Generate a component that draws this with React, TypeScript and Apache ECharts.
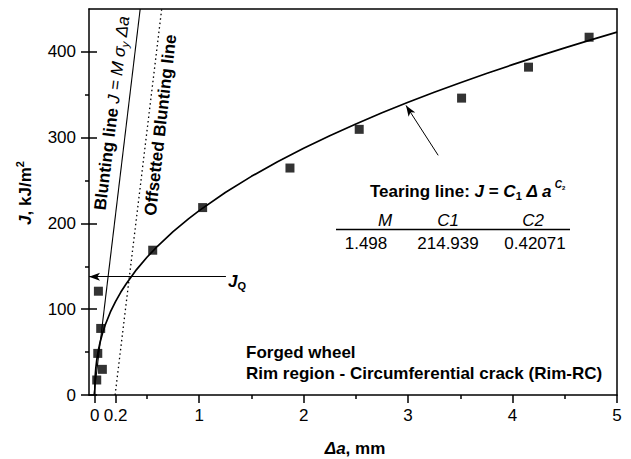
import React, { useEffect, useRef } from 'react';
import * as echarts from 'echarts';

const FONT = '"Liberation Sans", Arial, Helvetica, sans-serif';

// Measured data points (Δa in mm, J in kJ/m²)
const pointsDeltaA = [0.019, 0.029, 0.035, 0.057, 0.073, 0.555, 1.033, 1.869, 2.532, 3.512, 4.153, 4.733];
const pointsJ = [17.5, 48.5, 121, 77.6, 29.9, 168.8, 218.5, 264.6, 309.7, 346.1, 382.2, 417.1];

// Tearing line
const tearingDeltaA = [
  0, 0.002, 0.005, 0.01, 0.02, 0.035, 0.05, 0.075, 0.1, 0.15, 0.2, 0.25, 0.3, 0.4, 0.5, 0.6, 0.75, 0.9, 1,
  1.25, 1.5, 1.75, 2, 2.25, 2.5, 2.75, 3, 3.25, 3.5, 3.75, 4, 4.25, 4.5, 4.75, 5,
];
const tearingJ = [
  0, 15.7, 23.1, 31, 41.5, 52.4, 61, 72.3, 81.6, 96.8, 109.2, 120, 129.5, 146.2, 160.6, 173.4, 190.4, 205.6, 214.9,
  236.1, 254.9, 272, 287.7, 302.3, 316, 329, 341.2, 352.9, 364.1, 374.8, 385.1, 395.1, 404.7, 414, 423,
];

// Blunting lines
const bluntingDeltaA = [-0.008, 0.435];
const bluntingJ = [0, 450];
const offsetDeltaA = [0.195, 0.641];
const offsetJ = [0, 450];

// Axes
const X_MIN = -0.055;
const X_MAX = 5;
const Y_MIN = 0;
const Y_MAX = 450;
const xTickValues = [0, 0.2, 1, 2, 3, 4, 5];
const xMinorTickValues = [0.5, 1.5, 2.5, 3.5, 4.5];
const yTickValues = [0, 100, 200, 300, 400];
const yMinorTickValues = [50, 150, 250, 350];

// Annotations
const jQ = 138;
const jQArrowStart = 1.256;
const tearArrowFrom = [3.288, 279.4];
const tearArrowTo = [2.98, 337.6];

const tableHeaders = ['M', 'C1', 'C2'];
const tableValues = ['1.498', '214.939', '0.42071'];

const zip = (xs: number[], ys: number[]) => xs.map((x, i) => [x, ys[i]]);

const rich = {
  b: { fontFamily: FONT, fontSize: 17, fontWeight: 'bold', fill: '#000' },
  bi: { fontFamily: FONT, fontSize: 17, fontWeight: 'bold', fontStyle: 'italic', fill: '#000' },
  i: { fontFamily: FONT, fontSize: 17, fontStyle: 'italic', fill: '#000' },
  n: { fontFamily: FONT, fontSize: 17, fill: '#000' },
  isub: { fontFamily: FONT, fontSize: 11, fontStyle: 'italic', fill: '#000', padding: [9, 0, 0, 0] },
  sub: { fontFamily: FONT, fontSize: 11, fontWeight: 'bold', fill: '#000', padding: [9, 0, 0, 0] },
  sup: { fontFamily: FONT, fontSize: 11, fontWeight: 'bold', fill: '#000', padding: [0, 0, 11, 0] },
  supi: { fontFamily: FONT, fontSize: 10, fontWeight: 'bold', fontStyle: 'italic', fill: '#000', padding: [0, 0, 13, 0] },
  supsub: { fontFamily: FONT, fontSize: 6, fontWeight: 'bold', fill: '#000', padding: [0, 0, 7, 0] },
};

const txt = (x: number, y: number, text: string, align = 'center', rotation = 0) => ({
  type: 'text',
  x,
  y,
  rotation,
  silent: true,
  style: { text, rich, align, verticalAlign: 'middle', fill: '#000' },
});

const axisLineStyle = { color: '#000', width: 1.5 };

export default function App() {
  const ref = useRef<HTMLDivElement>(null);

  useEffect(() => {
    if (!ref.current) return;
    const chart = echarts.init(ref.current, undefined, { renderer: 'svg' });

    const xBase = { type: 'value', min: X_MIN, max: X_MAX, splitLine: { show: false } };
    const yBase = { type: 'value', min: Y_MIN, max: Y_MAX, splitLine: { show: false } };

    chart.setOption({
      animation: false,
      backgroundColor: '#fff',
      grid: { left: 89, right: 14, top: 9, bottom: 64, containLabel: false, outerBoundsMode: 'none' },
      xAxis: [
        {
          ...xBase,
          position: 'bottom',
          axisLine: { show: true, onZero: false, lineStyle: axisLineStyle },
          axisTick: { show: true, customValues: xTickValues, length: 8, lineStyle: axisLineStyle },
          axisLabel: { show: true, customValues: xTickValues, fontSize: 17, fontFamily: FONT, color: '#000', margin: 12 },
        },
        {
          ...xBase,
          position: 'bottom',
          axisLine: { show: false, onZero: false },
          axisTick: { show: true, customValues: xMinorTickValues, length: 4, lineStyle: axisLineStyle },
          axisLabel: { show: false },
        },
        {
          ...xBase,
          position: 'top',
          axisLine: { show: true, onZero: false, lineStyle: axisLineStyle },
          axisTick: { show: false },
          axisLabel: { show: false },
        },
      ],
      yAxis: [
        {
          ...yBase,
          position: 'left',
          axisLine: { show: true, onZero: false, lineStyle: axisLineStyle },
          axisTick: { show: true, customValues: yTickValues, length: 8, lineStyle: axisLineStyle },
          axisLabel: { show: true, customValues: yTickValues, fontSize: 17, fontFamily: FONT, color: '#000', margin: 13 },
        },
        {
          ...yBase,
          position: 'left',
          axisLine: { show: false, onZero: false },
          axisTick: { show: true, inside: true, customValues: yTickValues, length: 8, lineStyle: axisLineStyle },
          axisLabel: { show: false },
        },
        {
          ...yBase,
          position: 'left',
          axisLine: { show: false, onZero: false },
          axisTick: { show: true, customValues: yMinorTickValues, length: 4, lineStyle: axisLineStyle },
          axisLabel: { show: false },
        },
        {
          ...yBase,
          position: 'right',
          axisLine: { show: true, onZero: false, lineStyle: axisLineStyle },
          axisTick: { show: false },
          axisLabel: { show: false },
        },
      ],
      series: [
        {
          name: 'Tearing line',
          type: 'line',
          data: zip(tearingDeltaA, tearingJ),
          smooth: false,
          symbol: 'none',
          showSymbol: false,
          silent: true,
          lineStyle: { color: '#000', width: 1.7, join: 'round' },
          z: 3,
        },
        {
          name: 'Blunting line',
          type: 'line',
          data: zip(bluntingDeltaA, bluntingJ),
          symbol: 'none',
          silent: true,
          lineStyle: { color: '#000', width: 1.1 },
          z: 3,
        },
        {
          name: 'Offsetted Blunting line',
          type: 'line',
          data: zip(offsetDeltaA, offsetJ),
          symbol: 'none',
          silent: true,
          lineStyle: { color: '#000', width: 1.3, type: [1.5, 3] },
          z: 3,
        },
        {
          name: 'Data',
          type: 'scatter',
          data: zip(pointsDeltaA, pointsJ),
          symbol: 'rect',
          symbolSize: 9,
          itemStyle: { color: '#000' },
          silent: true,
          z: 4,
          markLine: {
            silent: true,
            animation: false,
            symbol: ['none', 'arrow'],
            symbolSize: [6, 11],
            label: { show: false },
            itemStyle: { color: '#000' },
            lineStyle: { color: '#000', width: 1, type: 'solid' },
            emphasis: { disabled: true },
            data: [
              [{ coord: [jQArrowStart, jQ] }, { coord: [X_MIN, jQ] }],
              [{ coord: tearArrowFrom }, { coord: tearArrowTo }],
            ],
          },
        },
      ],
      graphic: [
        txt(25, 193, '{bi|J}{b|, kJ/m}{sup|2}', 'center', Math.PI / 2),
        txt(355, 448, '{bi|Δa}{b|, mm}', 'center'),
        txt(112, 113, '{b|Blunting line }{i|J = M σ}{isub|y}{i| Δa}', 'center', (83 * Math.PI) / 180),
        txt(160.5, 125, '{b|Offsetted Blunting line}', 'center', (83.5 * Math.PI) / 180),
        txt(228, 281, '{bi|J}{sub|Q}', 'left'),
        txt(370, 191, '{b|Tearing line: }{bi|J}{b| = }{bi|C}{sub|1}{b| }{bi|Δ a}{supi| C}{supsub|2}', 'left'),
        txt(385, 220, `{i|${tableHeaders[0]}}`),
        txt(448, 220, `{i|${tableHeaders[1]}}`),
        txt(533, 220, `{i|${tableHeaders[2]}}`),
        {
          type: 'line',
          silent: true,
          shape: { x1: 336, y1: 229.5, x2: 570, y2: 229.5 },
          style: { stroke: '#000', lineWidth: 1.5 },
        },
        txt(366, 243, `{n|${tableValues[0]}}`),
        txt(448, 243, `{n|${tableValues[1]}}`),
        txt(535, 243, `{n|${tableValues[2]}}`),
        txt(246, 352, '{b|Forged wheel}', 'left'),
        txt(246, 373, '{b|Rim region - Circumferential crack (Rim-RC)}', 'left'),
      ],
    });

    return () => chart.dispose();
  }, []);

  return (
    <div
      ref={ref}
      style={{ position: 'fixed', left: 0, top: 0, width: 631, height: 459, background: '#fff' }}
    />
  );
}
